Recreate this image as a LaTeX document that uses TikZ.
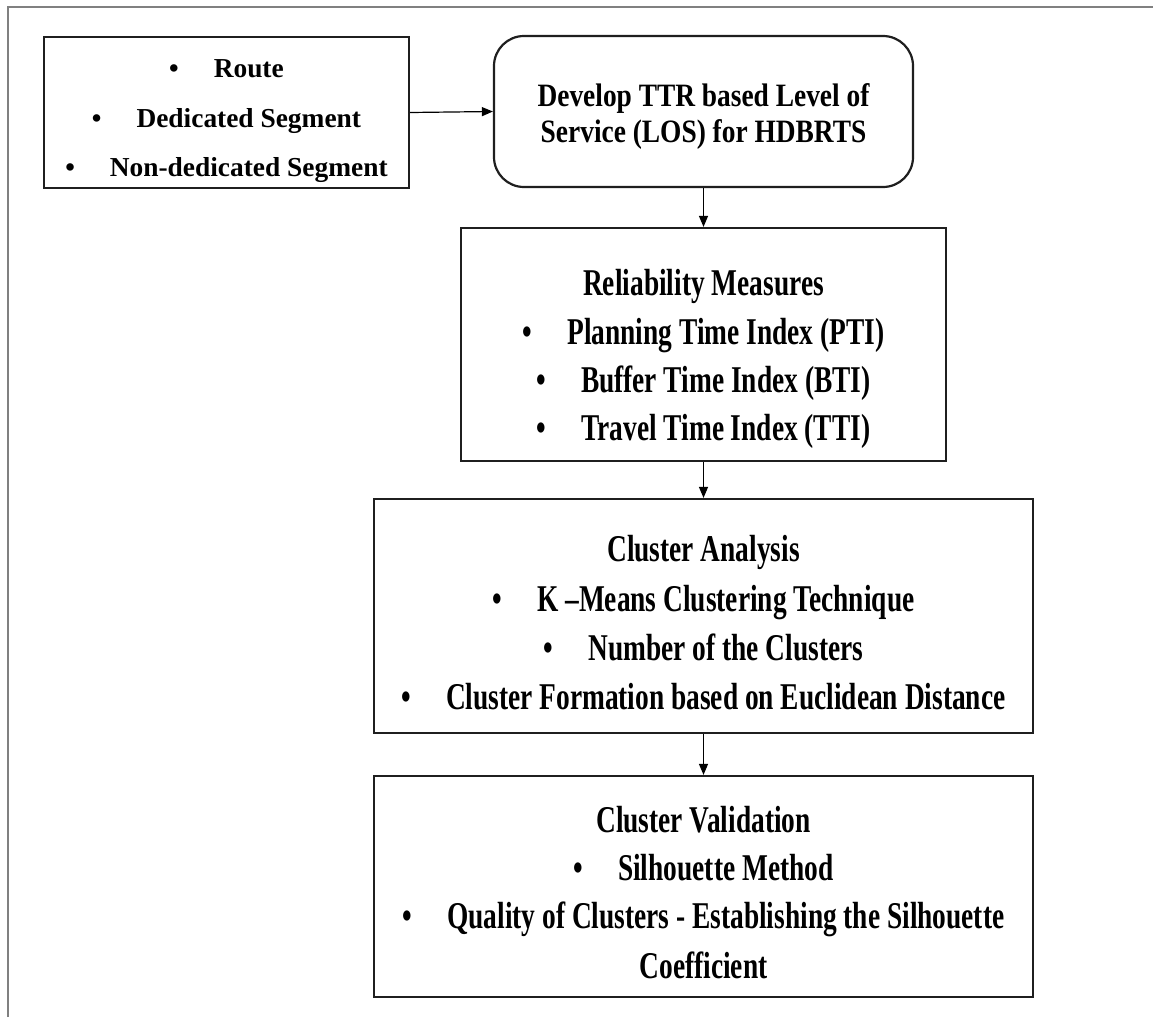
\documentclass[tikz,border=0pt]{standalone}
\usepackage{fontspec}
\setmainfont{Liberation Serif}
\usepackage{graphicx}
\usetikzlibrary{arrows.meta}

% vertically stretched line of text (narrow-looking heading style)
\newcommand\tallline[2]{\scalebox{1}[#1]{#2}}
\newcommand\bul{\textbullet\hspace{35pt}}

\tikzset{
  frameline/.style={draw=black!50, line width=1.5pt},
  box/.style={draw=black!88, line width=2.2pt, rectangle, inner sep=0pt},
  roundbox/.style={box, rounded corners=30pt},
  txt/.style={anchor=base, inner sep=0pt, text=black,
              font=\fontsize{27.4}{30}\selectfont\bfseries},
  link/.style={draw=black, line width=1.2pt,
               -{Triangle[length=11pt,width=9pt]}},
}

\begin{document}
\begin{tikzpicture}[x=1pt, y=-1pt]
  \useasboundingbox (0,0) rectangle (1153,1017);

  % page frame (top and left edges)
  \draw[frameline] (8,1017) -- (8,7) -- (1153,7);

  % boxes
  \node[box, minimum width=365pt, minimum height=151pt] (b1) at (226.5,112.5) {};
  \node[roundbox, minimum width=419pt, minimum height=151pt] (b2) at (703.5,111.5) {};
  \node[box, minimum width=485pt, minimum height=233pt] (b3) at (703.5,344.5) {};
  \node[box, minimum width=659pt, minimum height=234pt] (b4) at (703.5,616) {};
  \node[box, minimum width=659pt, minimum height=221pt] (b5) at (703.5,886.5) {};

  % segment types
  \node[txt] (t11) at (226.5,77)  {\bul Route};
  \node[txt] (t12) at (226.5,127) {\bul Dedicated Segment};
  \node[txt] (t13) at (226.5,176) {\bul Non-dedicated Segment};

  % level of service
  \node[txt] (t21) at (703.5,106) {\tallline{1.19}{Develop TTR based Level of}};
  \node[txt] (t22) at (703.5,142) {\tallline{1.19}{Service (LOS) for HDBRTS}};

  % reliability measures
  \node[txt] (t31) at (703.5,295.5) {\tallline{1.38}{Reliability Measures}};
  \node[txt] (t32) at (703.5,344.5) {\tallline{1.38}{\bul Planning Time Index (PTI)}};
  \node[txt] (t33) at (703.5,392.5) {\tallline{1.38}{\bul Buffer Time Index (BTI)}};
  \node[txt] (t34) at (703.5,440.5) {\tallline{1.38}{\bul Travel Time Index (TTI)}};

  % cluster analysis
  \node[txt] (t41) at (703.5,561.5) {\tallline{1.38}{Cluster Analysis}};
  \node[txt] (t42) at (703.5,611.5) {\tallline{1.38}{\bul K –Means Clustering Technique}};
  \node[txt] (t43) at (703.5,660.5) {\tallline{1.38}{\bul Number of the Clusters}};
  \node[txt] (t44) at (703.5,709.5) {\tallline{1.38}{\bul Cluster Formation based on Euclidean Distance}};

  % cluster validation
  \node[txt] (t51) at (703.5,832.5) {\tallline{1.38}{Cluster Validation}};
  \node[txt] (t52) at (703.5,880.5) {\tallline{1.38}{\bul Silhouette Method}};
  \node[txt] (t53) at (703.5,928.5) {\tallline{1.38}{\bul Quality of Clusters - Establishing the Silhouette}};
  \node[txt] (t54) at (703.5,978.5) {\tallline{1.38}{Coefficient}};

  % connectors
  \draw[link] (b1.east) -- (b2.west);
  \draw[link] (b2.south) -- (b3.north);
  \draw[link] (b3.south) -- (b4.north);
  \draw[link] (b4.south) -- (b5.north);
\end{tikzpicture}
\end{document}
